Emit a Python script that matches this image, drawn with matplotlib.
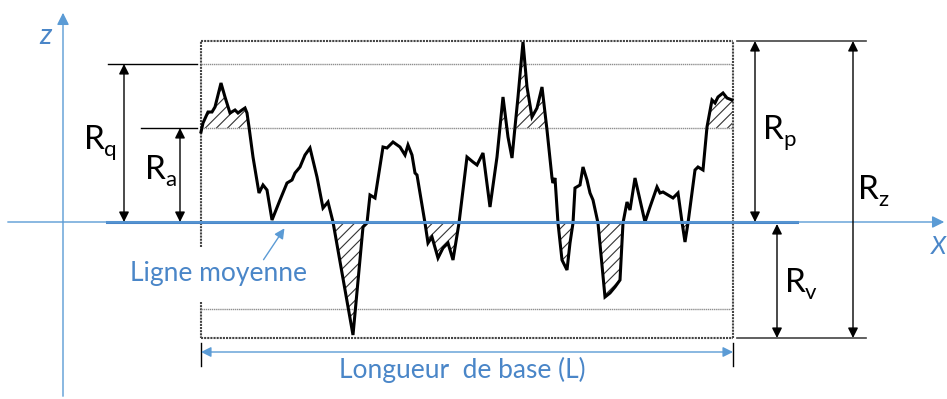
import numpy as np
import matplotlib.pyplot as plt

plt.rcParams['font.family'] = ['Lato', 'DejaVu Sans']
plt.rcParams['hatch.linewidth'] = 0.8

# profil de rugosite (x le long de la longueur de base, z par rapport a la ligne moyenne)
x_prof = [0, 2, 7, 11, 14, 20, 24, 29, 34, 37, 41, 44, 46, 48, 52, 58, 62, 66, 71, 79,
          86, 91, 94, 99, 104, 109, 116, 122, 127, 132, 152, 162, 166, 169, 174, 182, 186,
          192, 199, 204, 207, 211, 214, 216, 224, 227, 231, 237, 242, 247, 252, 258, 266,
          272, 276, 282, 289, 296, 302, 307, 311, 314, 317, 322, 326, 331, 336, 341, 346,
          351, 352, 354, 357, 361, 366, 369, 372, 374, 379, 382, 386, 389, 392, 397, 404,
          409, 414, 419, 422, 426, 429, 434, 439, 444, 449, 456, 459, 462, 467, 472, 477,
          481, 484, 487, 494, 497, 502, 506, 511, 514, 517, 522, 526, 531]
z_prof = [90, 99, 110, 110, 115, 139, 125, 109, 112, 109, 112, 114, 109, 95, 65, 29, 37, 32, 2, 22,
          39, 42, 49, 55, 67, 74, 45, 14, 20, 0, -113, -5, -1, 27, 24, 75, 74,
          80, 75, 67, 77, 67, 49, 47, -1, -21, -15, -36, -26, -21, -38, -1, 65,
          60, 57, 69, 15, 65, 125, 85, 64, 95, 125, 180, 135, 105, 114, 135, 92,
          44, 39, 44, -1, -38, -48, -21, -1, 34, 37, 55, 42, 29, 22, -1, -75,
          -71, -65, -58, -1, 20, 12, 44, 22, 0, 15, 35, 29, 30, 27, 24, 29,
          0, -20, -1, 52, 55, 52, 95, 122, 119, 125, 129, 124, 122]

L = 532
Ra = 94
Rq = 158
Rp = 181
Rv = -116
z_bas = -87

blue = '#5b9bd5'
blue_d = '#4a86c8'

fig = plt.figure(figsize=(9.47, 3.99), dpi=100)
ax = fig.add_axes([0, 0, 1, 1])
ax.set_xlim(-201, 746)
ax.set_ylim(-177, 222)
ax.axis('off')

x = np.array(x_prof)
z = np.array(z_prof)

# cadre de la longueur de base
cadre = dict(color='#444444', lw=1.5, ls=(0, (1, 0.5)))
ax.plot([0, L], [Rp, Rp], **cadre)
ax.plot([0, L], [Rv, Rv], **cadre)
ax.plot([L, L], [Rv, Rp], **cadre)
ax.plot([0, 0], [-25, Rp], **cadre)
ax.plot([0, 0], [-80, Rv], **cadre)
for lev in [Rq, Ra, z_bas]:
    ax.plot([0, L], [lev, lev], color='#8f8f8f', lw=1.0, ls=(0, (1, 0.5)))

# hachures
ax.fill_between(x, z, Ra, where=z > Ra, interpolate=True, hatch='///',
                facecolor='none', edgecolor='#333333', linewidth=0)
ax.fill_between(x, z, 0, where=z < 0, interpolate=True, hatch='///',
                facecolor='none', edgecolor='#333333', linewidth=0)

ax.plot(x, z, color='black', lw=2.2, solid_joinstyle='miter')

# axes x et z
ax.annotate('', xy=(-138, 212), xytext=(-138, -177),
            arrowprops=dict(arrowstyle='-|>', color=blue, lw=1, mutation_scale=18))
ax.annotate('', xy=(746, 0), xytext=(-196, 0),
            arrowprops=dict(arrowstyle='-|>', color=blue, lw=1, mutation_scale=18))
ax.text(-156, 186, 'z', color=blue_d, fontsize=21, style='italic', ha='center', va='center')
ax.text(745, -24, 'X', color=blue_d, fontsize=18, style='italic', ha='right', va='center')
ax.plot([-94, 596], [0, 0], color=blue_d, lw=2.2)

# Rq et Ra
ax.plot([-93, -4], [Rq, Rq], color='black', lw=1)
ax.plot([-60, -4], [Ra, Ra], color='black', lw=1)
ax.plot([536, 665], [Rp, Rp], color='#444444', lw=1.2)
ax.plot([536, 665], [Rv, Rv], color='#444444', lw=1.2)

def fleche(xa, z1, z2):
    ax.annotate('', xy=(xa, z1), xytext=(xa, z2),
                arrowprops=dict(arrowstyle='<|-|>', color='black', lw=1,
                                mutation_scale=15, shrinkA=0, shrinkB=0))

fleche(-77, Rq, 0)
fleche(-21, Ra, 0)
fleche(554, Rp, 0)
fleche(576, -2, Rv)
fleche(652, Rp, Rv)

def label(xr, zr, sub):
    ax.text(xr, zr, 'R', fontsize=24, ha='center', va='center', color='black')
    ax.text(xr + 10, zr - 10, sub, fontsize=16, ha='left', va='center', color='black')

label(-107, 82, 'q')
label(-46, 52, 'a')
label(572, 92, 'p')
label(667, 32, 'z')
label(594, -61, 'v')

# ligne moyenne
ax.text(17, -51, 'Ligne moyenne', color=blue_d, fontsize=19, ha='center', va='center',
        bbox=dict(facecolor='white', edgecolor='none', pad=1))
ax.annotate('', xy=(85, -4), xytext=(61, -40),
            arrowprops=dict(arrowstyle='-|>', color=blue, lw=1, mutation_scale=15))

# longueur de base
ax.plot([0, 0], [-121, -144], color='black', lw=1)
ax.plot([L, L], [-121, -144], color='black', lw=1)
ax.annotate('', xy=(0, -130), xytext=(L, -130),
            arrowprops=dict(arrowstyle='<|-|>', color=blue, lw=1, mutation_scale=15,
                            shrinkA=0, shrinkB=0))
ax.text(261, -148, 'Longueur  de base (L)', color=blue_d, fontsize=19, ha='center', va='center',
        bbox=dict(facecolor='white', edgecolor='none', pad=1))

fig.savefig('out.png', dpi=100)
